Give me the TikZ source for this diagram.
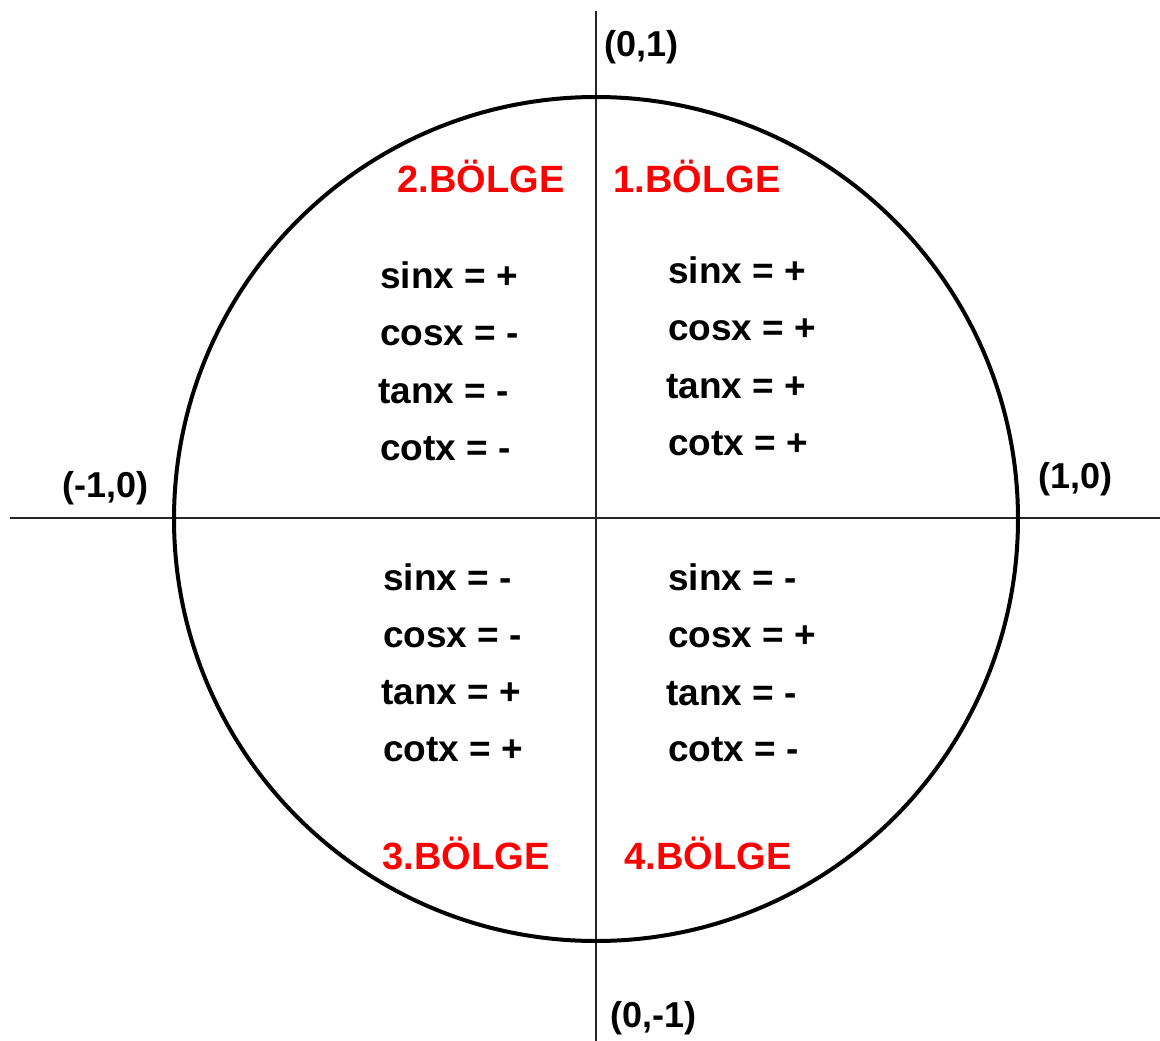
\documentclass[tikz,border=0pt]{standalone}
\usepackage{fontspec}
\setmainfont{Liberation Sans}
\definecolor{qred}{RGB}{255,0,0}
\begin{document}
\begin{tikzpicture}[x=1pt,y=-1pt,
  axis/.style={line width=1.8pt,black!85},
  ring/.style={line width=4pt,black},
  trig/.style={inner sep=0pt,anchor=base west,font=\fontsize{37}{44}\selectfont\bfseries},
  region/.style={inner sep=0pt,anchor=base,text=qred,font=\fontsize{38}{46}\selectfont\bfseries},
  pt/.style={inner sep=0pt,anchor=base west,font=\fontsize{36}{43}\selectfont\bfseries}]
\useasboundingbox[fill=white] (0,0) rectangle (1160,1041);
\coordinate (O) at (596,519);
\coordinate (L) at (10,518);
\coordinate (R) at (1160,518);
\coordinate (T) at (596,11);
\coordinate (B) at (596,1041);
\draw[axis] (L) -- (R);
\draw[axis] (T) -- (B);
\draw[ring] (O) circle[radius=422pt];
% axis labels
\node[pt] (p01) at (604,57) {(0,1)};
\node[pt] (pm10) at (62,497) {(-1,0)};
\node[pt] (p10) at (1038,488) {(1,0)};
\node[pt] (p0m1) at (610,1027) {(0,-1)};
% region names
\node[region] (r2) at (481,192) {2.BÖLGE};
\node[region] (r1) at (697,192) {1.BÖLGE};
\node[region] (r3) at (466,869) {3.BÖLGE};
\node[region] (r4) at (708,869) {4.BÖLGE};
% Q1
\node[trig] (q1a) at (668,283) {sinx = +};
\node[trig] (q1b) at (668,340) {cosx = +};
\node[trig] (q1c) at (666,398) {tanx = +};
\node[trig] (q1d) at (668,455) {cotx = +};
% Q2
\node[trig] (q2a) at (380,288) {sinx = +};
\node[trig] (q2b) at (380,345) {cosx = -};
\node[trig] (q2c) at (378,403) {tanx = -};
\node[trig] (q2d) at (380,460) {cotx = -};
% Q3
\node[trig] (q3a) at (383,590) {sinx = -};
\node[trig] (q3b) at (383,647) {cosx = -};
\node[trig] (q3c) at (381,704) {tanx = +};
\node[trig] (q3d) at (383,761) {cotx = +};
% Q4
\node[trig] (q4a) at (668,590) {sinx = -};
\node[trig] (q4b) at (668,647) {cosx = +};
\node[trig] (q4c) at (666,705) {tanx = -};
\node[trig] (q4d) at (668,761) {cotx = -};
\end{tikzpicture}
\end{document}
